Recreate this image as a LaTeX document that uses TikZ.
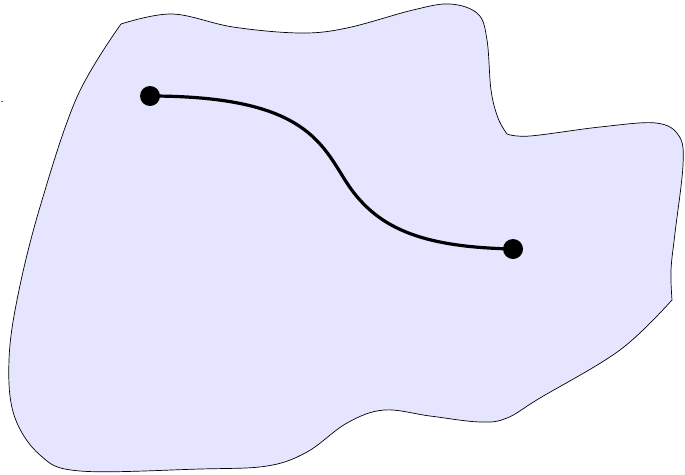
\documentclass[tikz,border=0pt]{standalone}
\begin{document}
\begin{tikzpicture}[x=1pt,y=-1pt,
  region/.style={draw=black, line width=0.7pt, fill=blue!10, line join=round},
  pathline/.style={draw=black, line width=3.2pt},
  endpt/.style={circle, fill=black, inner sep=0pt, minimum size=20pt}]
\useasboundingbox (0,0) rectangle (685,474);

% the region: three smooth stretches meeting at soft corners
\path[region]
  plot[smooth, tension=0.6] coordinates {(121,24) (172,14) (233,27) (300,33) (347,28) (413,10) (450,4) (478,14) (487,40) (491,90) (498,118) (507,134)}
  -- plot[smooth, tension=0.6] coordinates {(507,134) (530,136) (600,127) (656,123) (679,136) (683,165) (675,233) (671,270) (672,300)}
  -- plot[smooth, tension=0.6] coordinates {(672,300) (620,350) (540,398) (507,418) (480,422) (430,416) (384,410) (347,423) (307,452) (267,466) (200,469) (80,471) (40,455) (14,415) (9,360) (18,295) (40,207) (77,97) (121,24)}
  -- cycle;

% small mark at the left
\fill[black!60] (1,100.5) rectangle (3,101.5);

% end points and the path joining them
\node[endpt] (p) at (150,96) {};
\node[endpt] (q) at (513,249) {};
\draw[pathline] (p.center) .. controls (300,96) and (320,140) .. (345,180)
  .. controls (375,228) and (420,247) .. (q.center);
\end{tikzpicture}
\end{document}
